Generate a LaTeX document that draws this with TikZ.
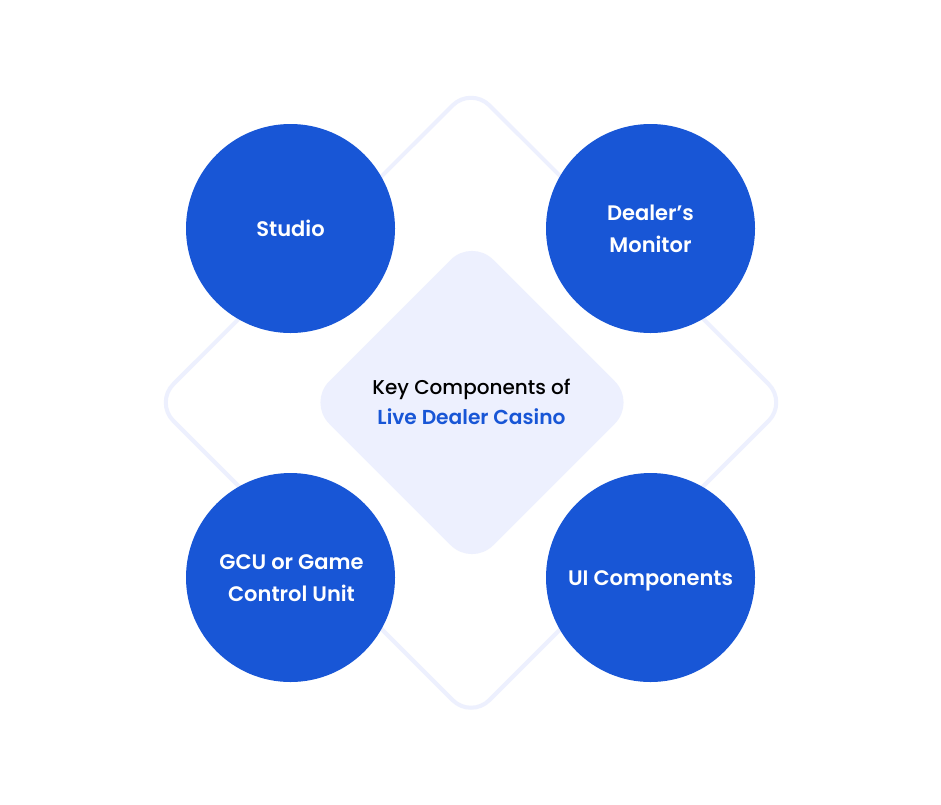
\documentclass[tikz,border=0pt]{standalone}
\usepackage{fontspec}
\setmainfont{Poppins}
\newfontfamily\semib{Poppins SemiBold}
\newfontfamily\medw{Poppins Medium}
\definecolor{bluec}{HTML}{1856D6}
\definecolor{palec}{HTML}{EDF0FE}
\begin{document}
\begin{tikzpicture}[x=1pt,y=-1pt,
  circ/.style={circle,fill=bluec,minimum size=209pt,inner sep=0pt,text=white,align=center,text depth=0pt,font=\fontsize{21}{32}\selectfont\semib}]
\useasboundingbox (0,0) rectangle (941,804);
\fill[white] (0,0) rectangle (941,804);
\draw[palec,line width=4pt,rounded corners=26pt] (471,87) -- (787,402.5) -- (471,718.5) -- (155,402.5) -- cycle;
\fill[palec,rounded corners=30pt] (472,238.5) -- (636,402.5) -- (472,566.5) -- (308,402.5) -- cycle;
\node[circ] (studio) at (290.5,228.5) {Studio};
\node[circ] (monitor) at (650.5,228.5) {Dealer’s\\Monitor};
\node[circ] (gcu) at (290.5,577.5) {\hspace*{2pt}\raisebox{-1pt}{GCU or Game}\\\hspace*{2pt}\raisebox{-1pt}{Control Unit}};
\node[circ] (ui) at (650.5,577.5) {\raisebox{-1pt}{UI Components}};
\node[align=center,font=\fontsize{20}{30}\selectfont\medw] (key) at (471.5,402) {Key Components of\\{\color{bluec}\semib\fontsize{20.2}{30}\selectfont Live Dealer Casino}};
\end{tikzpicture}
\end{document}
